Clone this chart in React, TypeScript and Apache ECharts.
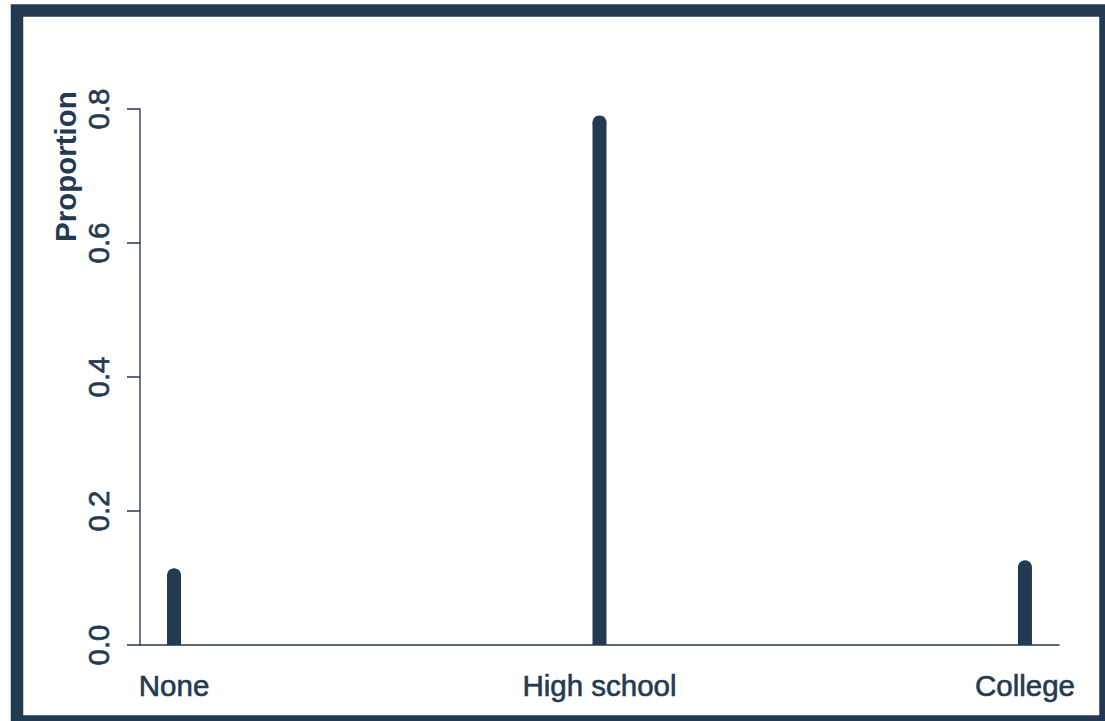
import React, { useEffect, useRef } from "react";
import * as echarts from "echarts";

const categories = ["None", "High school", "College"];
const proportions = [0.104, 0.78, 0.116];
const yTicks = [0, 0.2, 0.4, 0.6, 0.8];
const yAxisTitle = "Proportion";

const NAVY = "#243a52";
const FONT = "'Liberation Sans', Arial, Helvetica, sans-serif";

export default function App() {
  const ref = useRef<HTMLDivElement>(null);
  useEffect(() => {
    document.body.style.margin = "0";
    document.body.style.background = "#ffffff";
    const chart = echarts.init(ref.current!, null, { renderer: "svg" });
    const data = proportions.map((v, i) => [i + 1, v]);
    chart.setOption({
      animation: false,
      backgroundColor: "#ffffff",
      grid: { left: 140, right: 46, top: 109, bottom: 76 },
      xAxis: {
        type: "value",
        min: 0.92,
        max: 3.08,
        splitLine: { show: false },
        axisTick: { show: false },
        axisLine: { show: true, onZero: true, lineStyle: { color: NAVY, width: 1.5 } },
        axisLabel: {
          customValues: [1, 2, 3],
          formatter: (v: number) => categories[Math.round(v) - 1] ?? "",
          color: NAVY,
          fontFamily: FONT,
          fontSize: 29.5,
          margin: 25,
          textBorderColor: NAVY,
          textBorderWidth: 0.6,
        },
      },
      yAxis: {
        type: "value",
        min: yTicks[0],
        max: yTicks[yTicks.length - 1],
        interval: 0.2,
        splitLine: { show: false },
        axisLine: { show: true, lineStyle: { color: "#3a4d63", width: 1.5 } },
        axisTick: { show: true, inside: false, length: 13, lineStyle: { color: NAVY, width: 1.5 } },
        axisLabel: {
          rotate: 90,
          color: NAVY,
          fontFamily: FONT,
          fontSize: 29.5,
          margin: 27,
          textBorderColor: NAVY,
          textBorderWidth: 0.6,
          formatter: (v: number) => v.toFixed(1),
        },
      },
      series: [
        {
          type: "custom",
          data,
          renderItem: (params: any, api: any) => {
            const x = api.value(0);
            const v = api.value(1);
            const base = api.coord([x, 0]);
            const top = api.coord([x, v]);
            const w = 14;
            return {
              type: "group",
              children: [
                {
                  type: "rect",
                  shape: { x: base[0] - w / 2, y: top[1], width: w, height: base[1] - top[1] },
                  style: { fill: NAVY },
                },
                {
                  type: "circle",
                  shape: { cx: top[0], cy: top[1], r: w / 2 },
                  style: { fill: NAVY },
                },
              ],
            };
          },
        },
      ],
      graphic: [
        {
          type: "rect",
          shape: { x: 17, y: 10.5, width: 1088.5, height: 711 },
          style: { fill: "none", stroke: NAVY, lineWidth: 12.5 },
          silent: true,
        },
        {
          type: "text",
          x: 65,
          y: 242,
          rotation: Math.PI / 2,
          style: {
            text: yAxisTitle,
            fill: NAVY,
            font: `bold 29.5px ${FONT}`,
            textAlign: "left",
            textVerticalAlign: "middle",
          },
        },
      ],
    });
    return () => chart.dispose();
  }, []);
  return (
    <div
      ref={ref}
      style={{ position: "absolute", left: 0, top: 0, width: 1105, height: 721 }}
    />
  );
}
